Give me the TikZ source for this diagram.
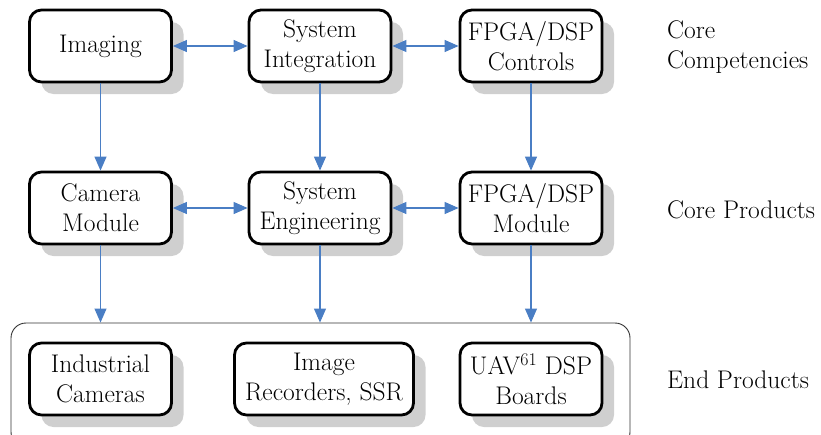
\documentclass[tikz,border=0pt]{standalone}
\usetikzlibrary{arrows.meta,shadows}
\definecolor{arrowblue}{RGB}{74,126,196}
\definecolor{shadowgray}{RGB}{207,207,207}
\begin{document}
\begin{tikzpicture}[x=1pt,y=-1pt,
  box/.style={draw=black, line width=2.8pt, rounded corners=12pt, fill=white,
    minimum width=142pt, minimum height=72pt, align=center, inner sep=0pt,
    font=\rmfamily\fontsize{25.5}{30}\selectfont,
    drop shadow={shadow xshift=12pt, shadow yshift=-12pt, fill=shadowgray, opacity=1}},
  lbl/.style={anchor=west, align=left, inner sep=0pt, font=\rmfamily\fontsize{25.5}{30}\selectfont},
  arr/.style={draw=arrowblue, line width=1.1pt, -{Triangle[length=14pt,width=12pt]}},
  darr/.style={draw=arrowblue, line width=1.1pt, {Triangle[length=14pt,width=12pt]}-{Triangle[length=14pt,width=12pt]}}
]
\useasboundingbox (0,0) rectangle (821,434);
\clip (0,0) rectangle (821,434);
% outer group box
\node[draw=black!80, line width=0.9pt, rounded corners=15pt, minimum width=619pt, minimum height=124pt, inner sep=0pt] (outer) at (320.5,385) {};
% row 1
\node[box] (img) at (100.5,46) {Imaging};
\node[box] (int) at (320,46) {System\\Integration};
\node[box] (fpc) at (531,46) {FPGA/DSP\\Controls};
% row 2
\node[box] (cam) at (100.5,208) {Camera\\Module};
\node[box] (eng) at (320,208) {System\\Engineering};
\node[box] (fpm) at (531,208) {FPGA/DSP\\Module};
% row 3
\node[box] (ind) at (100.5,379) {Industrial\\Cameras};
\node[box, minimum width=179pt] (rec) at (324,379) {Image\\Recorders, SSR};
\node[box] (uav) at (531,379) {UAV\textsuperscript{61} DSP\\Boards};
% labels
\node[lbl] (cc) at (667,47) {Core\\Competencies};
\node[lbl] (cp) at (667,210) {Core Products};
\node[lbl] (ep) at (667,380) {End Products};
% arrows
\draw[darr] (img.east) -- (int.west);
\draw[darr] (int.east) -- (fpc.west);
\draw[darr] (cam.east) -- (eng.west);
\draw[darr] (eng.east) -- (fpm.west);
\draw[arr] (img.south) -- (cam.north);
\draw[arr] (int.south) -- (eng.north);
\draw[arr] (fpc.south) -- (fpm.north);
\draw[arr] (cam.south) -- (cam.south |- outer.north);
\draw[arr] (eng.south) -- (eng.south |- outer.north);
\draw[arr] (fpm.south) -- (fpm.south |- outer.north);
\end{tikzpicture}
\end{document}
